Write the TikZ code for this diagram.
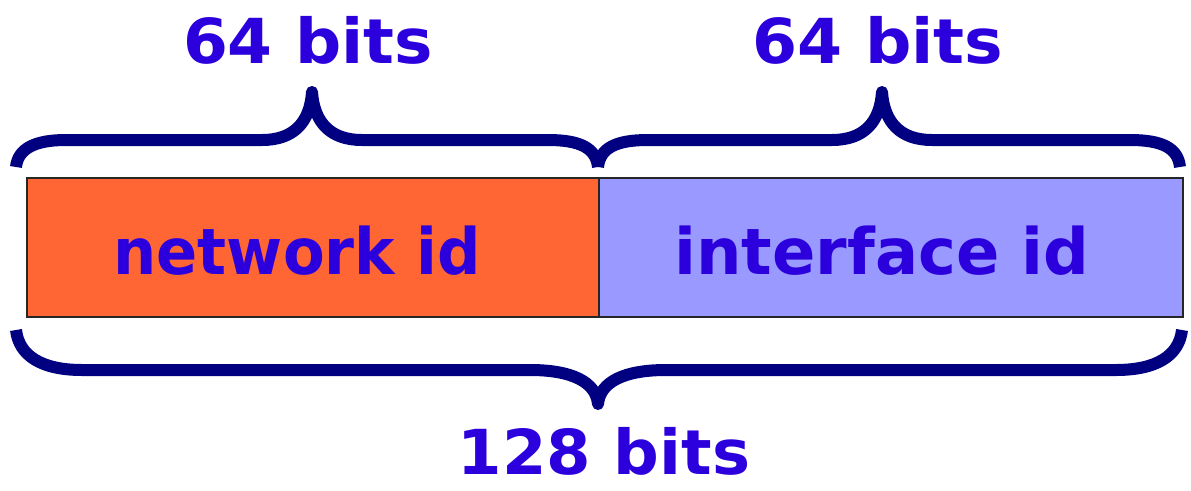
\documentclass[tikz,border=0pt]{standalone}
\usepackage{fontspec}
\usepackage{graphicx}
\setmainfont{DejaVu Sans}
\definecolor{labelblue}{RGB}{43,0,221}
\definecolor{bracenavy}{RGB}{0,0,128}
\definecolor{netfill}{RGB}{255,102,51}
\definecolor{ifacefill}{RGB}{153,153,255}
% stretch a label to a given width, keeping its height
\newcommand\widelabel[2]{\resizebox{#1}{\height}{#2}}
\begin{document}
\begin{tikzpicture}[x=1pt,y=-1pt,
  field/.style={draw=black!85,line width=2pt,minimum height=139pt,inner sep=0pt,anchor=north west},
  fieldtext/.style={text=labelblue,font=\bfseries\fontsize{64}{64}\selectfont,inner sep=0pt,anchor=base},
  bitstext/.style={text=labelblue,font=\bfseries\fontsize{62}{62}\selectfont,inner sep=0pt,anchor=base},
  bracestroke/.style={draw=bracenavy,line width=12pt,line join=round}]
\useasboundingbox (0,0) rectangle (1191,490);

% the two fields of the address
\node[field,fill=netfill,minimum width=572pt] (net) at (26,177) {};
\node[field,fill=ifacefill,minimum width=584pt] (iface) at (598,177) {};
\node[fieldtext] (netlbl) at (297,274) {\widelabel{367pt}{network id}};
\node[fieldtext] (ifacelbl) at (882,274) {\widelabel{415pt}{interface id}};

% upper braces, one per half
\draw[bracestroke] (16,167) .. controls (18,148) and (36,140) .. (66,140)
  -- (262,140) .. controls (294,140) and (310,122) .. (312,92)
  .. controls (314,122) and (330,140) .. (362,140)
  -- (548,140) .. controls (580,140) and (596,148) .. (598,167);
\draw[bracestroke] (598,167) .. controls (600,148) and (616,140) .. (648,140)
  -- (832,140) .. controls (864,140) and (880,122) .. (882,92)
  .. controls (884,122) and (900,140) .. (932,140)
  -- (1130,140) .. controls (1162,140) and (1178,148) .. (1180,167);

% lower brace over the whole address
\draw[bracestroke] (16,330) .. controls (19,356) and (42,370) .. (82,370)
  -- (530,370) .. controls (572,370) and (596,382) .. (598,404)
  .. controls (600,382) and (624,370) .. (666,370)
  -- (1116,370) .. controls (1156,370) and (1179,356) .. (1182,330);

% widths
\node[bitstext] (left64) at (308,63) {\widelabel{250pt}{64 bits}};
\node[bitstext] (right64) at (878,63) {\widelabel{251pt}{64 bits}};
\node[bitstext] (total) at (604,474) {\widelabel{292pt}{128 bits}};
\end{tikzpicture}
\end{document}
